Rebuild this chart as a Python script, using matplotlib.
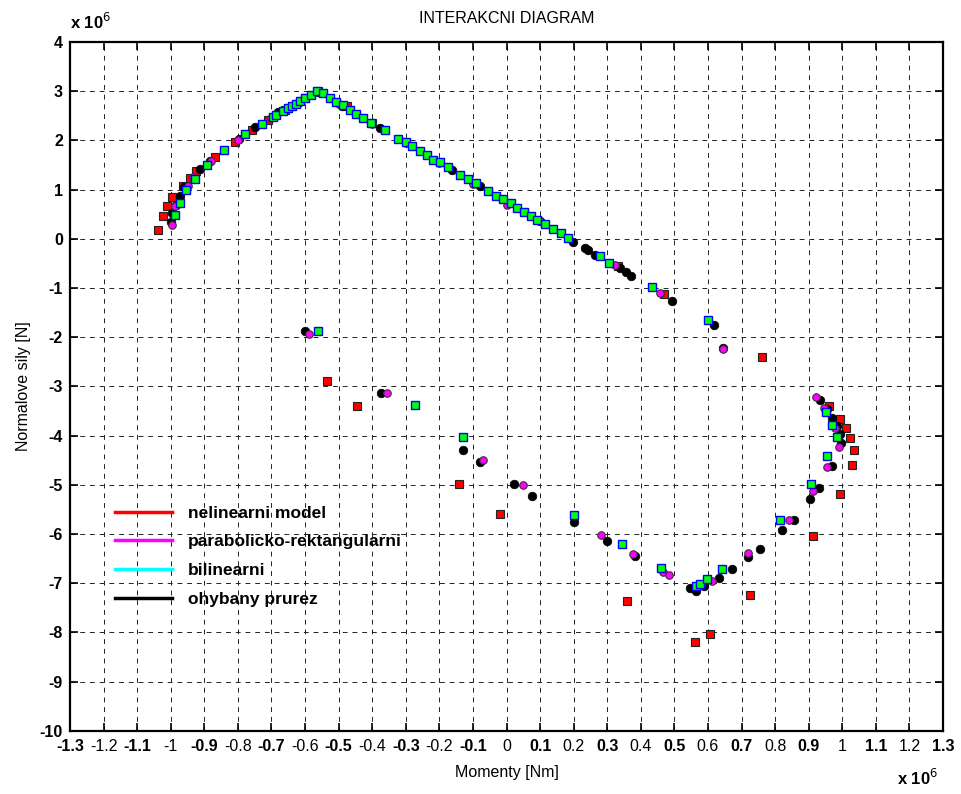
import matplotlib
matplotlib.use("Agg")
import matplotlib.pyplot as plt
from matplotlib.lines import Line2D

plt.rcParams['font.family'] = ['Liberation Sans', 'DejaVu Sans']

# values in units of 1e6 (x: moment [Nm], y: normal force [N])
nelin_x = [-1.038, -1.024, -1.011, -0.995, -0.962, -0.944, -0.924, -0.867, -0.810, -0.758,
           -0.711, -0.660, -0.600, -0.560, -0.475, -0.400, 0.331, 0.470, 0.760,
           -0.534, -0.444, -0.141, -0.019, 0.359, 0.561, 0.607, 0.726,
           0.960, 0.992, 1.010, 1.022, 1.035, 1.030, 0.992, 0.912]
nelin_y = [0.180, 0.453, 0.663, 0.840, 1.070, 1.226, 1.375, 1.666, 1.965, 2.209,
           2.413, 2.620, 2.870, 3.000, 2.698, 2.360, -0.552, -1.128, -2.410,
           -2.899, -3.407, -4.981, -5.605, -7.369, -8.204, -8.027, -7.250,
           -3.407, -3.672, -3.849, -4.059, -4.297, -4.594, -5.198, -6.033]

parab_x = [-0.995, -0.986, -0.949, -0.935, -0.880, -0.800, -0.700, -0.600, -0.500, -0.400,
           -0.300, -0.200, -0.100, 0.000, 0.100, 0.324, 0.456, 0.644,
           -0.587, -0.355, -0.071, 0.048, 0.282, 0.377, 0.466, 0.484, 0.580, 0.612,
           0.719, 0.842, 0.921, 0.946, 0.977, 0.991, 0.956, 0.912]
parab_y = [0.270, 0.663, 1.070, 1.260, 1.580, 2.010, 2.460, 2.860, 2.740, 2.340,
           1.950, 1.540, 1.110, 0.690, 0.360, -0.524, -1.101, -2.250,
           -1.928, -3.137, -4.506, -5.015, -6.030, -6.405, -6.779, -6.832, -7.040, -6.948,
           -6.393, -5.707, -3.218, -3.434, -3.849, -4.242, -4.649, -5.131]

bilin_x = [-0.987, -0.972, -0.955, -0.929, -0.892, -0.841, -0.780, -0.727, -0.695, -0.687,
           -0.667, -0.650, -0.639, -0.626, -0.614, -0.600, -0.582, -0.563, -0.547, -0.526,
           -0.507, -0.486, -0.465, -0.447, -0.427, -0.404, -0.363, -0.322, -0.299, -0.281,
           -0.259, -0.237, -0.219, -0.197, -0.175, -0.137, -0.115, -0.092, -0.054, -0.032,
           -0.010, 0.012, 0.030, 0.052, 0.074, 0.091, 0.116, 0.138, 0.161, 0.183,
           0.279, 0.304, 0.432, 0.600,
           -0.561, -0.273, -0.129, 0.200, 0.344, 0.461, 0.563, 0.576, 0.598, 0.641, 0.815,
           0.952, 0.969, 0.983, 0.956, 0.908]
bilin_y = [0.479, 0.718, 0.988, 1.218, 1.497, 1.802, 2.122, 2.331, 2.480, 2.514,
           2.596, 2.663, 2.698, 2.738, 2.799, 2.867, 2.921, 3.009, 2.956, 2.867,
           2.773, 2.712, 2.622, 2.535, 2.447, 2.358, 2.203, 2.026, 1.965, 1.884,
           1.782, 1.694, 1.605, 1.552, 1.456, 1.287, 1.218, 1.131, 0.962, 0.860,
           0.805, 0.718, 0.622, 0.541, 0.473, 0.384, 0.296, 0.201, 0.113, 0.017,
           -0.355, -0.483, -0.986, -1.660,
           -1.881, -3.373, -4.024, -5.625, -6.202, -6.684, -7.064, -7.009, -6.922, -6.710, -5.707,
           -3.522, -3.794, -4.024, -4.418, -4.981]

ohyb_x = [-0.998, -0.995, -0.985, -0.971, -0.959, -0.914, -0.884, -0.796, -0.750, -0.680,
          -0.620, -0.560, -0.490, -0.378, -0.163, -0.080, 0.100, 0.198, 0.234, 0.244,
          0.264, 0.339, 0.356, 0.370, 0.493, 0.619, 0.644,
          -0.601, -0.373, -0.129, -0.080, 0.021, 0.077, 0.200, 0.299, 0.383, 0.547,
          0.564, 0.589, 0.632, 0.672, 0.719, 0.756, 0.821, 0.857,
          0.904, 0.931, 0.970, 0.996, 0.992, 0.984, 0.969, 0.956, 0.934]
ohyb_y = [0.351, 0.527, 0.677, 0.866, 1.055, 1.410, 1.578, 2.026, 2.264, 2.582,
          2.760, 2.990, 2.700, 2.256, 1.395, 1.070, 0.364, -0.064, -0.186, -0.233,
          -0.321, -0.593, -0.674, -0.748, -1.256, -1.760, -2.230,
          -1.875, -3.137, -4.303, -4.541, -4.981, -5.219, -5.750, -6.134, -6.440, -7.097,
          -7.166, -7.064, -6.887, -6.718, -6.474, -6.300, -5.930, -5.707,
          -5.286, -5.070, -4.622, -4.146, -3.963, -3.815, -3.637, -3.454, -3.285]

legend_labels = ['nelinearni model', 'parabolicko-rektangularni', 'bilinearni', 'ohybany prurez']
legend_colors = ['#ff0000', '#ff00ff', '#00ffff', '#000000']

x_ticks = [round(-1.3 + 0.1 * i, 1) for i in range(27)]
y_ticks = list(range(-10, 5))

fig = plt.figure(figsize=(9.62, 7.94), dpi=100)
ax = fig.add_axes([70 / 962, 1 - 730.7 / 794, (943 - 70) / 962, (730.7 - 42) / 794])

ax.plot(nelin_x, nelin_y, ls='none', marker='s', ms=5.4, mfc='#ff0000', mec='#222222', mew=0.8, zorder=3)
ax.plot(ohyb_x, ohyb_y, ls='none', marker='o', ms=6.2, mfc='#000000', mec='#000000', mew=0.5, zorder=4)
ax.plot(parab_x, parab_y, ls='none', marker='o', ms=5.4, mfc='#ff00ff', mec='#333333', mew=0.8, zorder=5)
ax.plot(bilin_x, bilin_y, ls='none', marker='s', ms=5.4, mfc='#00ff00', mec='#0000ff', mew=1.0, zorder=6)

ax.set_xlim(-1.3, 1.3)
ax.set_ylim(-10, 4)
ax.set_xticks(x_ticks)
ax.set_yticks(y_ticks)

def fmt(v):
    if abs(v - round(v)) < 1e-9:
        return str(int(round(v)))
    return ('%.1f' % v)

ax.set_xticklabels([fmt(v) for v in x_ticks], fontsize=11.5)
for i, lab in enumerate(ax.get_xticklabels()):
    if i % 2 == 0:
        lab.set_fontweight('bold')
ax.set_yticklabels([str(v) for v in y_ticks], fontsize=11.5, fontweight='bold')

ax.tick_params(direction='in', length=6, width=1.2, top=True, right=True, pad=5)
ax.tick_params(axis='x', pad=6)
for s in ax.spines.values():
    s.set_linewidth(1.6)

ax.grid(True, color='#222222', linestyle=(0, (5, 5)), linewidth=0.7)
ax.set_axisbelow(True)

ax.set_title('INTERAKCNI DIAGRAM', fontsize=11.5, pad=14)
ax.set_xlabel('Momenty [Nm]', fontsize=11.5, labelpad=8)
ax.set_ylabel('Normalove sily [N]', fontsize=11.5, labelpad=6)

fig.text(70 / 962, 1 - 29 / 794, r'x 10$^{6}$', fontsize=12, fontweight='bold', ha='left', va='baseline')
fig.text(897 / 962, 1 - 785 / 794, r'x 10$^{6}$', fontsize=12, fontweight='bold', ha='left', va='baseline')

handles = [Line2D([0], [0], color=c, lw=2.5) for c in legend_colors]
ax.legend(handles, legend_labels, loc='upper left', bbox_to_anchor=(0.0515, 0.327), frameon=False,
          borderpad=0, borderaxespad=0, handlelength=3.3, handletextpad=0.9, labelspacing=0.78,
          prop={'weight': 'bold', 'size': 12.5})

fig.savefig('out.png', dpi=100)
